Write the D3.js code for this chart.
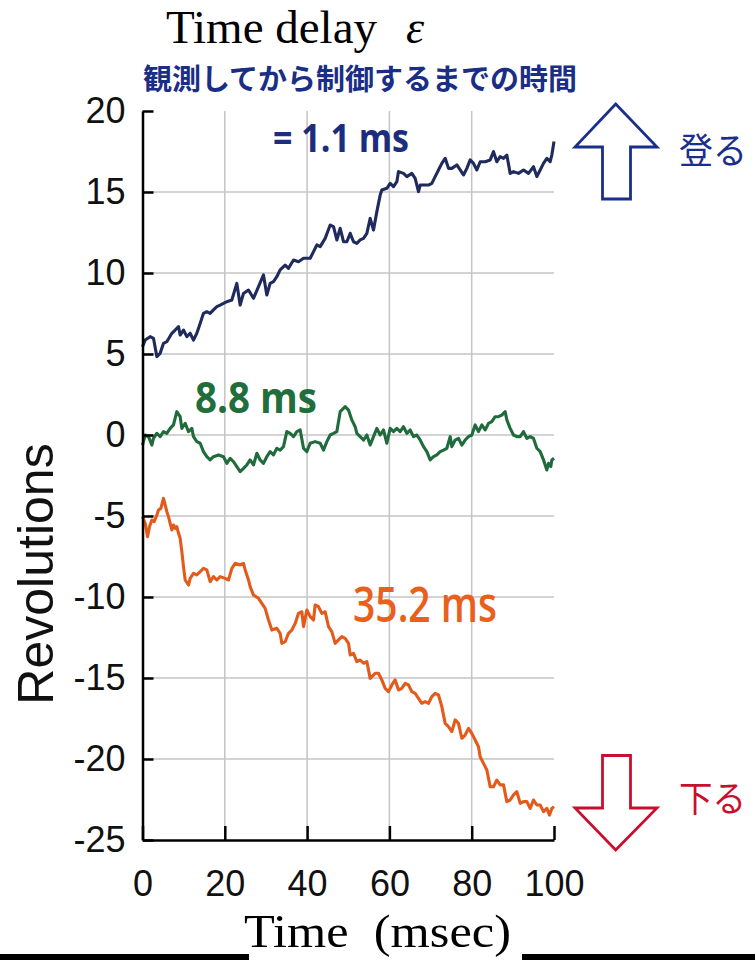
<!DOCTYPE html>
<html><head><meta charset="utf-8">
<script src="https://cdn.jsdelivr.net/npm/d3@7"></script>
<style>html,body{margin:0;padding:0;background:#fff;}svg{display:block;}</style>
</head><body>
<svg id="chart" width="755" height="960"></svg>
<script>
// ---- data ----
const xTicks = [0, 20, 40, 60, 80, 100];
const yTicks = [20, 15, 10, 5, 0, -5, -10, -15, -20, -25];

const blueT = [0,0.65,1.86,2.67,3.48,4.29,5.10,5.91,7.13,7.94,8.75,9.15,9.96,10.77,11.58,12.39,13.20,14.01,14.82,15.63,16.44,17.25,18.06,18.87,19.68,20.49,21.71,22.92,23.73,24.54,25.76,26.97,28.19,29.40,30.21,31.02,31.83,32.64,33.45,34.67,35.48,36.70,37.91,39.13,40.75,41.56,42.37,43.18,44.39,45.61,46.42,47.23,48.04,48.85,49.66,50.47,51.28,52.09,52.90,53.71,54.52,55.33,56.14,56.95,57.76,58.16,59.38,60.19,61.00,61.81,62.21,63.43,64.24,65.45,66.26,67.07,67.48,68.29,69.50,70.31,71.12,71.93,72.74,73.55,74.36,75.17,76.39,77.20,78.01,78.82,79.63,80.44,81.25,82.06,83.27,84.49,85.30,86.11,86.92,87.73,88.54,89.35,90.16,91.37,92.59,93.80,95.02,95.83,96.64,97.45,98.26,99.07,99.47,100];
const blueV = [5.45,5.86,6.07,5.97,4.84,5.04,5.66,5.76,6.28,6.48,6.69,6.17,6.48,6.07,6.28,5.86,6.28,6.89,7.51,7.61,7.51,7.72,7.92,8.02,8.13,8.23,8.33,9.36,8.02,8.74,8.95,8.44,9.16,9.88,8.64,9.36,9.47,9.77,10.19,10.49,10.29,10.80,10.70,10.91,10.91,11.32,11.73,11.63,12.14,12.96,12.86,12.04,12.76,11.93,11.93,12.45,11.93,11.83,12.04,12.14,12.45,13.37,12.65,13.79,14.81,15.12,15.23,15.53,15.33,15.64,16.26,16.15,15.95,16.15,15.84,15.02,15.43,15.43,15.43,15.53,15.95,16.36,16.77,17.08,16.46,16.46,16.67,16.36,16.05,16.46,16.98,16.77,16.36,16.87,16.87,16.98,17.49,16.87,17.18,17.08,17.28,16.15,16.26,16.15,16.36,16.15,16.56,15.95,16.36,16.77,17.08,16.87,17.28,18.11];

const greenT = [0,0.65,1.46,2.27,2.67,3.48,4.29,5.10,5.91,6.72,7.53,8.34,9.15,9.56,10.37,11.18,11.99,12.39,13.20,14.01,14.82,15.63,16.44,17.25,18.47,19.68,20.49,21.30,22.11,22.92,23.73,24.54,25.35,26.16,26.97,27.78,28.59,29.40,30.21,31.02,31.83,32.64,33.45,34.26,35.07,35.88,36.70,37.51,38.32,39.13,39.94,40.75,41.96,43.18,43.99,44.80,45.61,46.42,47.23,48.04,49.25,50.06,50.87,51.68,52.09,52.90,53.71,54.52,55.33,56.14,56.95,57.76,58.57,59.38,60.19,61.00,61.81,62.62,63.43,64.24,65.05,65.86,66.67,67.48,68.29,69.10,69.91,70.72,71.53,72.34,73.15,73.96,74.77,75.17,75.98,76.79,77.60,78.41,79.22,80.03,80.84,81.65,82.46,83.27,84.08,84.89,85.70,86.51,87.32,88.13,88.54,89.35,90.16,90.97,91.78,92.59,93.40,94.21,95.02,95.83,96.64,97.45,98.26,98.66,99.23,99.47,100];
const greenV = [-0.62,0,-0.10,-0.62,-0.21,0.10,-0.10,0.21,0.10,0.41,0.62,1.44,1.13,0.41,0.72,0.21,0.41,-0.10,-0.41,-0.51,-1.03,-1.34,-1.54,-1.34,-1.23,-1.34,-1.75,-1.44,-1.65,-1.95,-2.26,-2.06,-1.85,-1.54,-1.85,-1.13,-1.54,-1.75,-1.34,-1.03,-1.23,-0.82,-0.93,-0.72,0.21,0.10,-0.10,0.21,0.31,-0.82,-1.03,-0.51,-0.41,-0.51,-0.93,-0.41,0,0.10,0.21,1.44,1.75,1.54,0.93,0.51,0.10,-0.10,-0.31,0,-0.62,-0.10,0.41,0,0.31,-0.51,0.41,0.21,0.41,0.21,0.51,0.10,0.31,-0.10,0,-0.31,-0.72,-1.03,-1.54,-1.34,-1.23,-1.03,-0.93,-0.82,-0.10,-0.72,-0.31,-0.21,-0.62,-0.31,-0.10,0,0.62,0.21,0.62,0.31,0.72,0.82,1.13,1.13,1.23,1.44,0.93,0.41,0,-0.10,-0.10,0.21,-0.21,-0.10,-0.21,-0.82,-1.03,-1.54,-2.16,-1.75,-1.95,-1.54,-1.44];

const orangeT = [0,0.65,1.22,1.70,2.27,2.84,3.48,3.89,4.46,5.10,5.51,5.91,6.32,6.72,7.13,7.53,7.94,8.34,8.75,9.15,9.56,9.96,10.37,11.18,11.58,12.39,13.20,14.01,14.82,15.63,16.44,17.25,18.06,18.87,20.09,20.90,21.71,22.52,23.73,24.54,24.95,25.76,26.16,26.97,28.19,29.00,29.81,30.62,31.43,32.64,33.45,33.86,34.67,35.48,36.29,37.10,37.91,38.72,39.13,39.94,40.75,41.56,41.96,42.77,43.58,44.39,45.20,46.01,46.82,47.63,48.44,49.25,50.06,50.47,51.28,52.09,52.90,53.71,54.52,55.33,56.54,57.35,58.16,58.97,59.78,60.59,61.40,62.21,63.02,63.83,64.64,65.45,66.26,67.07,67.88,68.69,69.50,70.31,71.12,71.93,72.74,73.55,74.36,75.17,75.98,76.79,77.60,78.41,79.22,80.03,80.84,81.65,82.06,82.87,83.68,84.49,85.30,86.11,86.92,87.73,88.54,89.35,90.16,90.97,91.78,92.59,93.40,94.21,95.02,95.83,96.64,97.45,98.26,98.91,99.47,100];
const orangeV = [-5.04,-5.45,-6.28,-5.66,-5.25,-5.35,-4.94,-4.63,-4.53,-3.91,-4.32,-4.73,-5.04,-5.45,-5.86,-5.56,-5.76,-5.66,-6.07,-6.38,-7.20,-8.13,-8.95,-9.26,-8.85,-8.54,-8.64,-8.44,-8.23,-8.33,-9.05,-8.74,-8.95,-8.74,-8.85,-8.95,-8.23,-7.92,-8.02,-7.92,-8.33,-8.95,-9.36,-9.88,-10.08,-10.39,-10.70,-11.42,-12.04,-11.93,-12.24,-12.86,-12.76,-12.24,-12.04,-11.63,-11.01,-10.91,-11.83,-10.80,-11.21,-11.42,-10.49,-10.60,-11.01,-10.91,-11.83,-12.14,-12.86,-12.65,-12.45,-12.55,-12.86,-13.58,-13.48,-13.99,-13.89,-14.09,-13.99,-15.02,-14.71,-14.71,-15.12,-15.64,-15.84,-15.43,-15.12,-15.74,-15.64,-15.33,-15.43,-15.84,-15.95,-16.26,-16.56,-16.46,-16.56,-16.15,-15.95,-16.05,-16.77,-17.80,-18.00,-18.31,-17.59,-17.80,-18.72,-18.52,-18.11,-18.42,-18.83,-19.24,-19.86,-20.27,-20.68,-21.71,-21.71,-21.30,-21.60,-21.60,-22.63,-22.53,-22.22,-22.02,-22.74,-22.63,-22.63,-23.05,-22.53,-22.84,-22.84,-23.25,-23.05,-23.46,-23.05,-22.94];

const seriesNames = ["= 1.1 ms", "8.8 ms", "35.2 ms"];
const seriesColors = ["#1f2b5c", "#1f6b3b", "#e35a1a"];
const labelColors = ["#1b2d7c", "#1f6e3c", "#e8601c"];

// ---- drawing ----
const svg = d3.select("#chart");
const x = d3.scaleLinear().domain([0, 100]).range([142.5, 554]);
const y = d3.scaleLinear().domain([-25, 20]).range([840, 111]);

// gridlines
svg.append("g").selectAll("line.v").data([20, 40, 60, 80]).join("line")
  .attr("x1", d => x(d)).attr("x2", d => x(d)).attr("y1", y(20)).attr("y2", y(-25))
  .attr("stroke", "#c4c4c4").attr("stroke-width", 1.5);
svg.append("g").selectAll("line.h").data([15, 10, 5, 0, -5, -10, -15, -20]).join("line")
  .attr("x1", x(0)).attr("x2", x(100)).attr("y1", d => y(d)).attr("y2", d => y(d))
  .attr("stroke", "#c4c4c4").attr("stroke-width", 1.5);

// series
const line = d3.line().x(d => x(d[0])).y(d => y(d[1]));
const series = [
  d3.zip(blueT, blueV),
  d3.zip(greenT, greenV),
  d3.zip(orangeT, orangeV)
];
svg.append("g").selectAll("path").data(series).join("path")
  .attr("d", line).attr("fill", "none")
  .attr("stroke", (d, i) => seriesColors[i]).attr("stroke-width", 3.1)
  .attr("stroke-linejoin", "round");

// axes
const yAxis = d3.axisLeft(y).tickValues(yTicks).tickSizeInner(-11).tickSizeOuter(0)
  .tickPadding(17).tickFormat(d => String(d));
const gy = svg.append("g").attr("transform", `translate(${x(0)},0)`).call(yAxis);
const xAxis = d3.axisBottom(x).tickValues(xTicks).tickSizeInner(-14).tickSizeOuter(0)
  .tickPadding(30).tickFormat(d => String(d));
const gx = svg.append("g").attr("transform", `translate(0,${y(-25)})`).call(xAxis);
[gx, gy].forEach(g => {
  g.select(".domain").attr("stroke", "#000").attr("stroke-width", 2.5);
  g.selectAll(".tick line").attr("stroke", "#000").attr("stroke-width", 2.5);
  g.selectAll(".tick text").attr("fill", "#111").attr("font-family", "'Liberation Sans', Arial, sans-serif").attr("font-size", 36);
});
gx.selectAll(".tick text").attr("dy", "0.71em");

// y axis title
svg.append("text").attr("transform", "translate(53,574) rotate(-90)")
  .attr("text-anchor", "middle").attr("font-family", "'Liberation Sans', Arial, sans-serif")
  .attr("font-size", 50).attr("fill", "#111").text("Revolutions");

// top title
svg.append("text").attr("x", 166).attr("y", 43)
  .attr("font-family", "'Liberation Serif', 'Times New Roman', serif").attr("font-size", 46)
  .attr("textLength", 211).attr("lengthAdjust", "spacingAndGlyphs").attr("fill", "#000").text("Time delay");
svg.append("text").attr("x", 406).attr("y", 43)
  .attr("font-family", "'Liberation Serif', 'Times New Roman', serif").attr("font-style", "italic").attr("font-size", 46)
  .attr("fill", "#000").text("ε");
svg.append("text").attr("x", 143).attr("y", 90)
  .attr("font-family", "'Noto Sans CJK JP', sans-serif").attr("font-weight", "bold").attr("font-size", 29)
  .attr("textLength", 434).attr("lengthAdjust", "spacingAndGlyphs").attr("fill", "#1b2e86")
  .text("観測してから制御するまでの時間");

// series labels
const labelPos = [
  {x: 273, y: 152, size: 40, len: 136, weight: 700},
  {x: 195, y: 413, size: 43, len: 122, weight: 700},
  {x: 353, y: 622, size: 48, len: 144, weight: 600}
];
svg.append("g").selectAll("text").data(seriesNames).join("text")
  .attr("x", (d, i) => labelPos[i].x).attr("y", (d, i) => labelPos[i].y)
  .attr("font-family", "'Open Sans', 'Noto Sans', sans-serif")
  .attr("font-weight", (d, i) => labelPos[i].weight)
  .attr("font-size", (d, i) => labelPos[i].size)
  .attr("textLength", (d, i) => labelPos[i].len).attr("lengthAdjust", "spacingAndGlyphs")
  .attr("fill", (d, i) => labelColors[i]).text(d => d);

// arrows
const upPts = [[615.7,104],[657,147],[630.5,147],[630.5,199],[602.5,199],[602.5,147],[575,147]];
const downPts = [[602.5,755.5],[630.5,755.5],[630.5,808],[657,808],[615.7,850],[575,808],[602.5,808]];
svg.append("polygon").attr("points", upPts.map(p => p.join(",")).join(" "))
  .attr("fill", "#fff").attr("stroke", "#1a2e8c").attr("stroke-width", 2.8).attr("stroke-linejoin", "miter");
svg.append("polygon").attr("points", downPts.map(p => p.join(",")).join(" "))
  .attr("fill", "#fff").attr("stroke", "#c8102e").attr("stroke-width", 2.8).attr("stroke-linejoin", "miter");
svg.append("text").attr("x", 679).attr("y", 164)
  .attr("font-family", "'Noto Sans CJK JP', sans-serif").attr("font-size", 36)
  .attr("textLength", 68).attr("lengthAdjust", "spacingAndGlyphs").attr("fill", "#1a2e8c").text("登る");
svg.append("text").attr("x", 679).attr("y", 812)
  .attr("font-family", "'Noto Sans CJK JP', sans-serif").attr("font-size", 36)
  .attr("textLength", 67).attr("lengthAdjust", "spacingAndGlyphs").attr("fill", "#c8102e").text("下る");

// bottom title with bars
svg.append("rect").attr("x", 0).attr("y", 954).attr("width", 249).attr("height", 6).attr("fill", "#000");
svg.append("rect").attr("x", 522).attr("y", 954).attr("width", 233).attr("height", 6).attr("fill", "#000");
svg.append("text").attr("x", 244).attr("y", 947)
  .attr("font-family", "'Liberation Serif', 'Times New Roman', serif").attr("font-size", 47)
  .attr("textLength", 267).attr("lengthAdjust", "spacingAndGlyphs").attr("fill", "#000")
  .attr("xml:space", "preserve").style("white-space", "pre").text("Time  (msec)");
</script>
</body></html>
